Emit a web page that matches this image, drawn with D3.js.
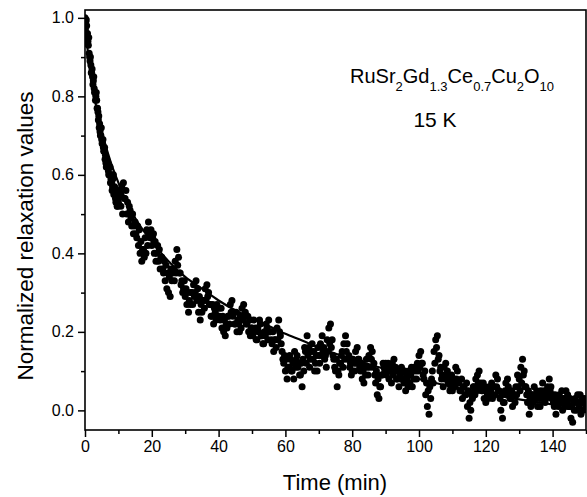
<!DOCTYPE html>
<html>
<head>
<meta charset="utf-8">
<script src="https://cdn.jsdelivr.net/npm/d3@7.9.0/dist/d3.min.js"></script>
<style>
  body { margin: 0; background: #fff; }
  svg { display: block; }
  text { font-family: "Liberation Sans", Arial, sans-serif; fill: #000; }
</style>
</head>
<body>
<svg id="chart" width="587" height="497"></svg>
<script>
// readings are regularly sampled; each run is start time + step (min) and its values
// first 10 min, two interleaved runs at 0.25 min
const earlyA = { start: 0, step: 0.25 };
const earlyValuesA = [1.00, 0.99, 0.98, 0.96, 0.93, 0.91, 0.89, 0.88, 0.86, 0.85, 0.84, 0.82, 0.81, 0.80, 0.79, 0.77,
  0.74, 0.72, 0.71, 0.70, 0.69, 0.68, 0.67, 0.66, 0.64, 0.63, 0.64, 0.62, 0.61, 0.60, 0.62, 0.59, 0.58, 0.57, 0.60, 0.56,
  0.55, 0.53, 0.56, 0.52];
const earlyB = { start: 0.125, step: 0.25 };
const earlyValuesB = [0.97, 0.995, 0.95, 0.94, 0.95, 0.90, 0.90, 0.86, 0.87, 0.83, 0.85, 0.81, 0.79, 0.81, 0.77, 0.76,
  0.75, 0.73, 0.70, 0.72, 0.68, 0.69, 0.66, 0.67, 0.65, 0.62, 0.62, 0.63, 0.60, 0.62, 0.58, 0.60, 0.56, 0.59, 0.55, 0.57,
  0.54, 0.56, 0.52, 0.54];

// 10-150 min, two interleaved runs at 0.5 min
const mainA = { start: 10, step: 0.5 };
const mainValuesA = [
  0.53, 0.55, 0.57, 0.58, 0.54, 0.50, 0.48, 0.51, 0.47, 0.45, 0.48, 0.44, 0.42, 0.40, 0.38, 0.41, 0.44, 0.46, 0.48, 0.44,
  0.42, 0.45, 0.43, 0.40, 0.38, 0.36, 0.39, 0.35, 0.33, 0.31, 0.30, 0.29, 0.33, 0.36, 0.38, 0.41, 0.39, 0.35, 0.33, 0.31,
  0.29, 0.27, 0.25, 0.27, 0.30, 0.32, 0.30, 0.28, 0.25, 0.23, 0.25, 0.28, 0.31, 0.32, 0.30, 0.27, 0.24, 0.22, 0.25, 0.27,
  0.26, 0.23, 0.21, 0.20, 0.19, 0.21, 0.24, 0.27, 0.28, 0.25, 0.22, 0.20, 0.22, 0.24, 0.26, 0.27, 0.25, 0.22, 0.20, 0.19,
  0.21, 0.23, 0.21, 0.18, 0.20, 0.22, 0.19, 0.17, 0.19, 0.21, 0.23, 0.20, 0.17, 0.15, 0.18, 0.21, 0.23, 0.19, 0.15, 0.12,
  0.10, 0.08, 0.11, 0.13, 0.10, 0.08, 0.11, 0.14, 0.12, 0.09, 0.06, 0.10, 0.15, 0.19, 0.16, 0.13, 0.17, 0.15, 0.12, 0.10,
  0.14, 0.17, 0.19, 0.16, 0.14, 0.18, 0.21, 0.22, 0.18, 0.13, 0.10, 0.06, 0.09, 0.12, 0.15, 0.17, 0.19, 0.17, 0.14, 0.12,
  0.10, 0.12, 0.15, 0.16, 0.13, 0.10, 0.08, 0.07, 0.09, 0.11, 0.14, 0.16, 0.15, 0.12, 0.07, 0.04, 0.03, 0.06, 0.09, 0.11,
  0.12, 0.10, 0.08, 0.10, 0.12, 0.13, 0.11, 0.08, 0.06, 0.08, 0.10, 0.07, 0.05, 0.08, 0.10, 0.09, 0.06, 0.08, 0.10, 0.12,
  0.14, 0.15, 0.12, 0.08, 0.04, 0.01, -0.01, 0.03, 0.10, 0.15, 0.18, 0.19, 0.14, 0.11, 0.09, 0.11, 0.12, 0.10, 0.08, 0.06,
  0.05, 0.08, 0.11, 0.10, 0.07, 0.05, 0.03, 0.06, 0.04, 0.01, -0.02, 0.00, 0.03, 0.06, 0.08, 0.09, 0.10, 0.07, 0.05, 0.03,
  0.02, 0.04, 0.06, 0.05, 0.03, 0.06, 0.09, 0.08, 0.05, 0.00, -0.02, 0.02, 0.07, 0.08, 0.05, 0.03, 0.01, 0.04, 0.06, 0.09,
  0.08, 0.11, 0.13, 0.10, 0.06, 0.02, -0.01, 0.01, 0.04, 0.06, 0.03, 0.01, 0.03, 0.05, 0.07, 0.05, 0.03, 0.06, 0.08, 0.06,
  0.04, 0.01, -0.01, 0.02, 0.04, 0.02, 0.00, 0.03, 0.05, 0.04, 0.01, -0.02, -0.03, 0.00, 0.02, 0.04, 0.01, -0.01, 0.02, 0.03,
  0.01
];
const mainB = { start: 10.25, step: 0.5 };
const mainValuesB = [
  0.56, 0.52, 0.50, 0.54, 0.56, 0.53, 0.52, 0.49, 0.50, 0.47, 0.45, 0.47, 0.46, 0.43, 0.41, 0.39, 0.40, 0.42, 0.45, 0.46,
  0.44, 0.40, 0.38, 0.42, 0.41, 0.39, 0.36, 0.38, 0.37, 0.35, 0.34, 0.36, 0.35, 0.33, 0.35, 0.37, 0.35, 0.32, 0.30, 0.33,
  0.31, 0.30, 0.28, 0.30, 0.27, 0.29, 0.33, 0.31, 0.29, 0.27, 0.28, 0.26, 0.28, 0.29, 0.27, 0.24, 0.27, 0.26, 0.23, 0.24,
  0.24, 0.26, 0.24, 0.23, 0.22, 0.24, 0.22, 0.25, 0.24, 0.22, 0.25, 0.23, 0.20, 0.21, 0.23, 0.24, 0.22, 0.24, 0.23, 0.21,
  0.19, 0.20, 0.18, 0.21, 0.23, 0.19, 0.17, 0.20, 0.22, 0.18, 0.20, 0.18, 0.20, 0.18, 0.16, 0.18, 0.20, 0.17, 0.13, 0.14,
  0.13, 0.11, 0.14, 0.10, 0.12, 0.15, 0.13, 0.11, 0.09, 0.12, 0.13, 0.16, 0.12, 0.14, 0.11, 0.15, 0.13, 0.10, 0.14, 0.16,
  0.12, 0.14, 0.15, 0.13, 0.11, 0.15, 0.17, 0.16, 0.14, 0.11, 0.13, 0.10, 0.12, 0.14, 0.11, 0.13, 0.15, 0.13, 0.11, 0.09,
  0.13, 0.10, 0.12, 0.13, 0.11, 0.12, 0.10, 0.11, 0.13, 0.09, 0.11, 0.13, 0.11, 0.09, 0.10, 0.08, 0.06, 0.09, 0.12, 0.10,
  0.09, 0.12, 0.11, 0.07, 0.09, 0.10, 0.08, 0.10, 0.09, 0.11, 0.08, 0.10, 0.09, 0.06, 0.07, 0.11, 0.10, 0.11, 0.08, 0.10,
  0.11, 0.12, 0.09, 0.10, 0.07, 0.05, 0.06, 0.08, 0.07, 0.12, 0.16, 0.13, 0.10, 0.08, 0.06, 0.08, 0.09, 0.07, 0.05, 0.09,
  0.07, 0.06, 0.08, 0.07, 0.05, 0.08, 0.06, 0.04, 0.07, 0.05, 0.02, 0.04, 0.06, 0.04, 0.05, 0.07, 0.06, 0.05, 0.07, 0.06,
  0.05, 0.03, 0.04, 0.07, 0.06, 0.04, 0.06, 0.05, 0.03, 0.04, 0.02, 0.05, 0.04, 0.06, 0.03, 0.05, 0.04, 0.02, 0.04, 0.06,
  0.05, 0.07, 0.09, 0.06, 0.04, 0.05, 0.03, 0.04, 0.02, 0.03, 0.05, 0.04, 0.01, 0.03, 0.04, 0.02, 0.05, 0.04, 0.05, 0.03,
  0.02, 0.04, 0.03, 0.01, 0.02, 0.05, 0.03, 0.01, 0.02, 0.01, 0.03, 0.01, 0.02, 0.03, 0.00, 0.02, 0.04, 0.03, 0.00, 0.02
];

// fitted curve
const fitTimes = [0, 1, 2, 3, 4, 5, 6, 8, 10, 12, 15, 20, 25, 30, 35, 40, 45, 50, 55, 60, 65, 70, 80, 90, 100, 110, 120, 130, 140, 150];
const fitValues = [1.0, 0.90, 0.84, 0.79, 0.745, 0.71, 0.68, 0.625, 0.58, 0.54, 0.49, 0.43, 0.38, 0.34, 0.31, 0.28, 0.255, 0.235, 0.215, 0.195, 0.178, 0.16, 0.13, 0.105, 0.08, 0.06, 0.043, 0.028, 0.015, 0.004];

const xMajor = [0, 20, 40, 60, 80, 100, 120, 140];
const xMinor = [10, 30, 50, 70, 90, 110, 130, 150];
const yMajor = [0.0, 0.2, 0.4, 0.6, 0.8, 1.0];
const yMinor = [0.1, 0.3, 0.5, 0.7, 0.9];

function toPoints(run, values) {
  return values.map((v, i) => ({ t: run.start + i * run.step, v: v }));
}
const points = [].concat(
  toPoints(earlyA, earlyValuesA), toPoints(earlyB, earlyValuesB),
  toPoints(mainA, mainValuesA), toPoints(mainB, mainValuesB));
const fit = fitTimes.map((t, i) => ({ t: t, v: fitValues[i] }));

const svg = d3.select('#chart');
const plotLeft = 85, plotRight = 586, plotTop = 10, plotBottom = 430;

const x = d3.scaleLinear().domain([0, 150]).range([plotLeft, plotRight]);
const y = d3.scaleLinear().domain([-0.05, 1.02]).range([plotBottom, plotTop]);

svg.append('defs').append('clipPath').attr('id', 'plot')
  .append('rect').attr('x', plotLeft).attr('y', plotTop)
  .attr('width', plotRight - plotLeft).attr('height', plotBottom - plotTop);

const plot = svg.append('g').attr('clip-path', 'url(#plot)');

// data points
plot.selectAll('circle')
  .data(points)
  .enter()
  .append('circle')
  .attr('cx', d => x(d.t))
  .attr('cy', d => y(d.v))
  .attr('r', 3.5)
  .attr('fill', '#000');

// fit line
plot.append('path')
  .datum(fit)
  .attr('fill', 'none')
  .attr('stroke', '#000')
  .attr('stroke-width', 2.2)
  .attr('d', d3.line().x(d => x(d.t)).y(d => y(d.v)).curve(d3.curveMonotoneX));

// axes
svg.append('g').attr('transform', `translate(0,${plotBottom})`)
  .call(d3.axisBottom(x).tickValues(xMajor).tickSize(7).tickPadding(4).tickFormat(d3.format('d')));
svg.append('g').attr('transform', `translate(0,${plotBottom})`)
  .call(d3.axisBottom(x).tickValues(xMinor).tickSize(4).tickFormat(''));
svg.append('g').attr('transform', `translate(${plotLeft},0)`)
  .call(d3.axisLeft(y).tickValues(yMajor).tickSize(7).tickPadding(4).tickFormat(d3.format('.1f')));
svg.append('g').attr('transform', `translate(${plotLeft},0)`)
  .call(d3.axisLeft(y).tickValues(yMinor).tickSize(4).tickFormat(''));

svg.selectAll('.domain').remove();
svg.selectAll('.tick line').attr('stroke', '#000').attr('stroke-width', 1.5);
svg.selectAll('.tick text')
  .style('font-family', '"Liberation Sans", Arial, sans-serif')
  .style('font-size', '16px')
  .attr('fill', '#000');

// frame
svg.append('rect')
  .attr('x', plotLeft).attr('y', plotTop)
  .attr('width', plotRight - plotLeft).attr('height', plotBottom - plotTop)
  .attr('fill', 'none').attr('stroke', '#000').attr('stroke-width', 1.6);

// axis titles
svg.append('text')
  .attr('x', 335).attr('y', 490)
  .attr('text-anchor', 'middle')
  .style('font-size', '22px')
  .text('Time (min)');

svg.append('text')
  .attr('transform', 'translate(33,236) rotate(-90)')
  .attr('text-anchor', 'middle')
  .style('font-size', '22.5px')
  .text('Normalized relaxation values');

// compound label with subscripts
const formula = [['RuSr', false], ['2', true], ['Gd', false], ['1.3', true], ['Ce', false],
  ['0.7', true], ['Cu', false], ['2', true], ['O', false], ['10', true]];
const label = svg.append('text').attr('x', 350).attr('y', 83).style('font-size', '20px');
formula.forEach(([s, sub], i) => {
  const prevSub = i > 0 && formula[i - 1][1];
  label.append('tspan')
    .attr('dy', sub ? 8 : (prevSub ? -8 : 0))
    .style('font-size', sub ? '13px' : '20px')
    .text(s);
});

svg.append('text')
  .attr('x', 435).attr('y', 127)
  .attr('text-anchor', 'middle')
  .style('font-size', '21px')
  .text('15 K');
</script>
</body>
</html>
